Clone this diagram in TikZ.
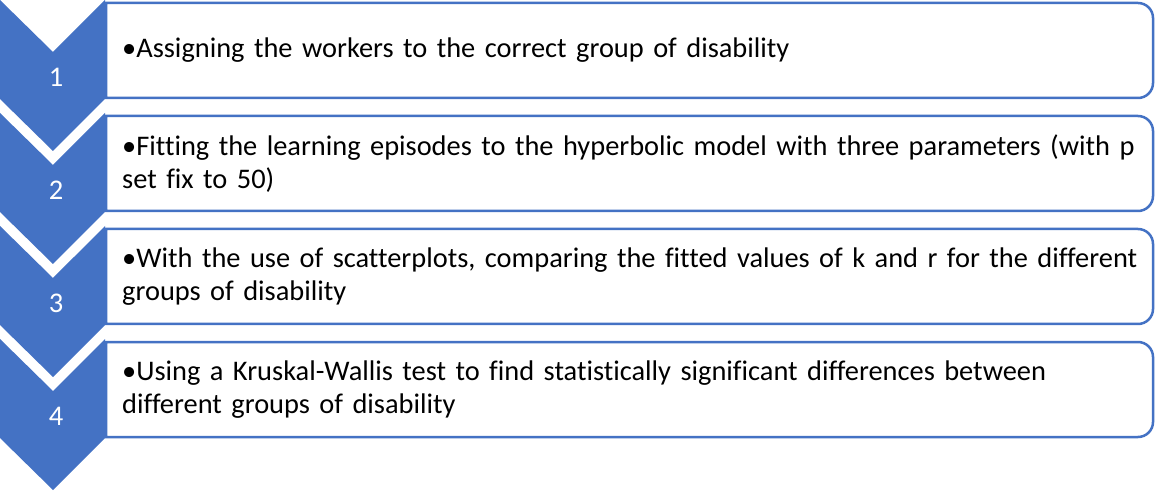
\documentclass[tikz,border=0pt]{standalone}
\usepackage{fontspec}
\setmainfont{Carlito}[Ligatures={NoCommon}]
\usepackage{tikz}
\definecolor{stepblue}{HTML}{4472C4}
\tikzset{
	numlabel/.style={text=white, font=\fontsize{28.5}{30}\selectfont},
	steptext/.style={anchor=west, text width=1030pt, align=left, inner sep=0pt, font=\fontsize{28.4}{33}\selectfont},
	boxline/.style={draw=stepblue, line width=2.5pt, fill=white}
}
% bullet with the following lines hung under the text
\newcommand\itembul{\leavevmode\setbox0\hbox{•}\hangindent=\wd0 \hangafter=1 \box0}
% chevron with its top edge at height #1
\def\chevron(#1){\fill[stepblue] (0,#1) -- (53,#1-52) -- (105,#1) -- (105,#1-99) -- (53,#1-151) -- (0,#1-99) -- cycle;}
% box with rounded right corners, top at height #1
\def\stepbox(#1){\draw[boxline] (106,#1-3) -- (1138,#1-3) arc[start angle=90, end angle=0, radius=15pt] -- (1153,#1-83) arc[start angle=0, end angle=-90, radius=15pt] -- (106,#1-98) -- cycle;}

\begin{document}
\begin{tikzpicture}[x=1pt, y=1pt]
			%%%%% START %%%%%
			\useasboundingbox (0,0) rectangle (1155,490);
			
			\stepbox(490)
			\stepbox(377)
			\stepbox(264)
			\stepbox(151)
			
			\chevron(490)
			\chevron(377)
			\chevron(264)
			\chevron(151)
			
			\node[numlabel] (n1) at (56, 413) {1};
			\node[numlabel] (n2) at (56, 300) {2};
			\node[numlabel] (n3) at (56, 187) {3};
			\node[numlabel] (n4) at (56, 74) {4};
			
			\node[steptext] (t1) at (122, 439.5) {\itembul Assigning the workers to the correct group of disability};
			\node[steptext] (t2) at (122, 326.5) {\itembul Fitting the learning episodes to the hyperbolic model with three parameters (with p\\ set fix to 50)};
			\node[steptext] (t3) at (122, 213.5) {\itembul With the use of scatterplots, comparing the fitted values of k and r for the different\\ groups of disability};
			\node[steptext] (t4) at (122, 100.5) {\itembul Using a Kruskal-Wallis test to find statistically significant differences between\\ different groups of disability};
			
			%%%%% END %%%%%
\end{tikzpicture}
\end{document}
